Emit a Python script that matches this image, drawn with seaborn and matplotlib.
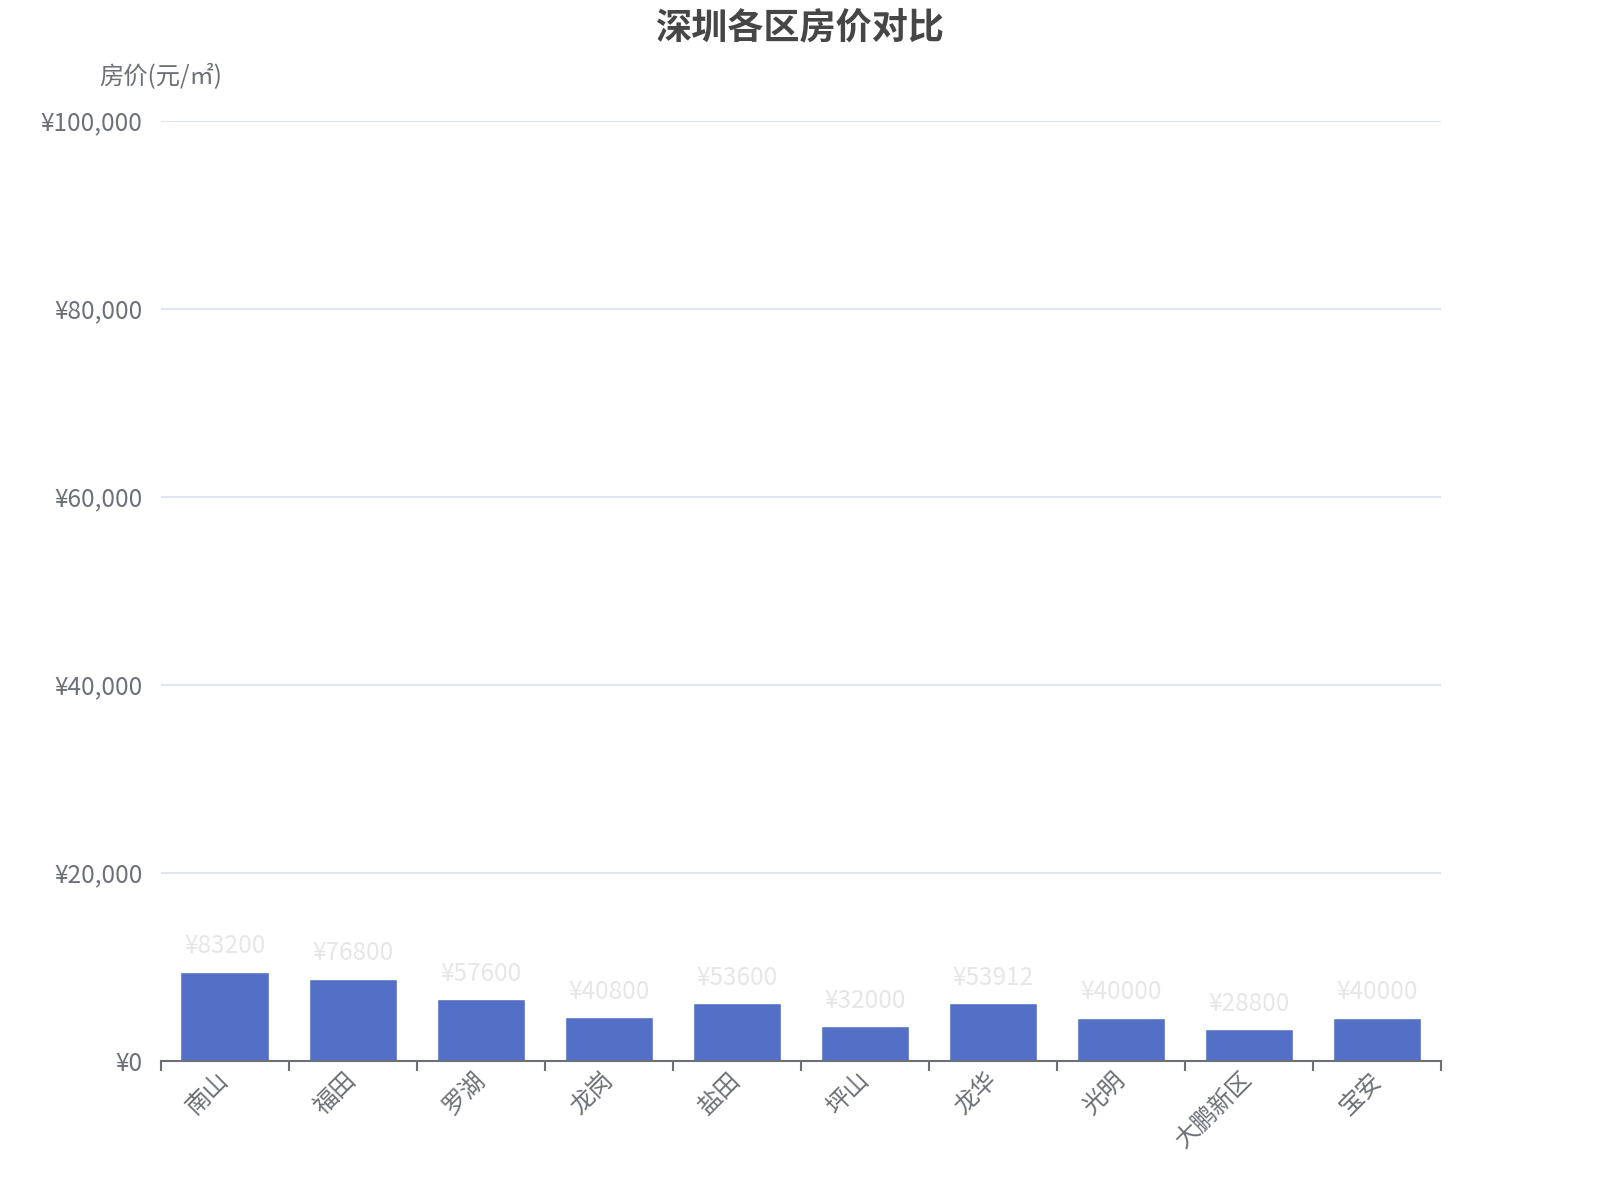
import seaborn as sns
import matplotlib.pyplot as plt
import pandas as pd
from matplotlib.ticker import FuncFormatter, FixedLocator

# districts and values
districts = ["南山", "福田", "罗湖", "龙岗", "盐田", "坪山", "龙华", "光明", "大鹏新区", "宝安"]
bar_values = [9440, 8720, 6540, 4640, 6100, 3650, 6130, 4560, 3320, 4560]
label_values = [83200, 76800, 57600, 40800, 53600, 32000, 53912, 40000, 28800, 40000]
y_ticks = [0, 20000, 40000, 60000, 80000, 100000]

df = pd.DataFrame({"district": districts, "price": bar_values})

sns.set_style("white")
plt.rcParams['font.family'] = ['Noto Sans CJK SC', 'DejaVu Sans']

fig = plt.figure(figsize=(16, 12), dpi=100)
ax = fig.add_axes([0.1004, 0.1161, 0.8002, 0.7833])

sns.barplot(data=df, x="district", y="price", color="#5470C6", saturation=1,
            width=0.69, ax=ax)

ax.set_xlim(-0.5, len(districts) - 0.5)
ax.set_ylim(0, 100000)

# grid and axes
ax.yaxis.set_major_locator(FixedLocator(y_ticks))
ax.yaxis.set_major_formatter(FuncFormatter(lambda v, p: "¥{:,.0f}".format(v)))
ax.grid(axis="y", color="#E0E6F1", linewidth=1.5)
ax.set_axisbelow(True)
for side in ["top", "right", "left"]:
    ax.spines[side].set_visible(False)
ax.spines["bottom"].set_color("#6E7079")
ax.spines["bottom"].set_linewidth(1.5)

ax.tick_params(axis="y", length=0, pad=13, labelsize=17.5, labelcolor="#6E7079")
ax.tick_params(axis="x", which="major", length=0, pad=11, labelsize=17.5, labelcolor="#6E7079")
ax.set_xticks([i - 0.5 for i in range(len(districts) + 1)], minor=True)
ax.tick_params(axis="x", which="minor", bottom=True, length=7, width=1.5,
               color="#6E7079", direction="out")
for lbl in ax.get_xticklabels():
    lbl.set_rotation(45)
    lbl.set_ha("right")
    lbl.set_va("center")
    lbl.set_rotation_mode("anchor")

ax.set_xlabel("")
ax.set_ylabel("")

# value labels
for i, (b, v) in enumerate(zip(bar_values, label_values)):
    ax.annotate("¥{}".format(v), (i, b), xytext=(0, 9), textcoords="offset points",
                ha="center", va="bottom", fontsize=17.5, color="#E6E6E6")

# axis name and title
ax.text(0, 1.046, "房价(元/㎡)", transform=ax.transAxes, ha="center", va="center",
        fontsize=17.5, color="#6E7079")
fig.text(0.5, 0.977, "深圳各区房价对比", ha="center", va="center",
         fontsize=26, fontweight="bold", color="#464646")

fig.savefig("out.png", dpi=100)
